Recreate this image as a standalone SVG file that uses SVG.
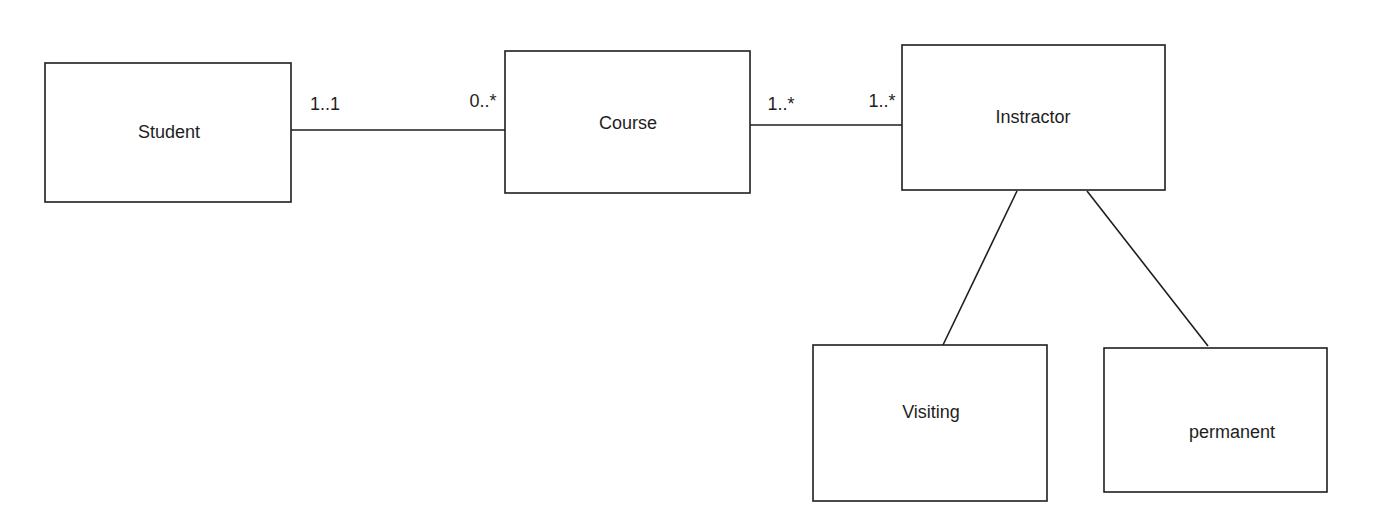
<svg xmlns="http://www.w3.org/2000/svg" width="1392" height="529" viewBox="0 0 1392 529">
<style>
.box{fill:#fff;stroke:#1e1e1e;stroke-width:1.6}
.lbl{font-family:"Liberation Sans",Arial,sans-serif;font-size:18px;fill:#1e1e1e;text-anchor:middle;dominant-baseline:central}
.edge{stroke:#1e1e1e;stroke-width:1.6;fill:none}
</style>
<rect width="1392" height="529" fill="#fff"/>
<g id="connectors">
<line class="edge" x1="291" y1="130" x2="505" y2="130"/>
<line class="edge" x1="750" y1="125" x2="908" y2="125"/>
<line class="edge" x1="1017" y1="191" x2="943" y2="345"/>
<line class="edge" x1="1087" y1="191" x2="1208" y2="346"/>
<text class="lbl" x="325" y="104">1..1</text>
<text class="lbl" x="483" y="101">0..*</text>
<text class="lbl" x="781" y="104">1..*</text>
<text class="lbl" x="882" y="101">1..*</text>
</g>
<g id="student">
<rect class="box" x="45" y="63" width="246" height="139"/>
<text class="lbl" x="169" y="132">Student</text>
</g>
<g id="course">
<rect class="box" x="505" y="51" width="245" height="142"/>
<text class="lbl" x="628" y="123">Course</text>
</g>
<g id="instractor">
<rect class="box" x="902" y="45" width="263" height="145"/>
<text class="lbl" x="1033" y="117">Instractor</text>
</g>
<g id="visiting">
<rect class="box" x="813" y="345" width="234" height="156"/>
<text class="lbl" x="931" y="412">Visiting</text>
</g>
<g id="permanent">
<rect class="box" x="1104" y="348" width="223" height="144"/>
<text class="lbl" x="1232" y="432">permanent</text>
</g>
</svg>
